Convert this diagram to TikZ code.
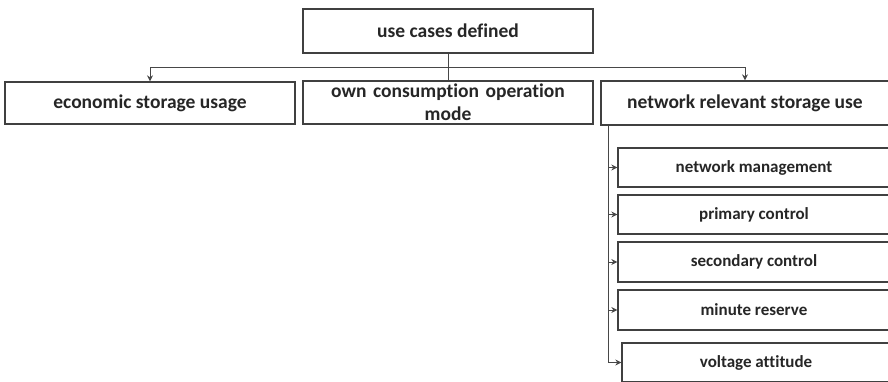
\documentclass[tikz,border=0pt]{standalone}
\usepackage{fontspec}
\setmainfont{Carlito}[Ligatures=NoCommon]
\usetikzlibrary{arrows.meta}
\begin{document}
\begin{tikzpicture}[x=1pt,y=-1pt,
  box/.style={draw=black!75,line width=1.3pt,fill=white,inner sep=0pt,align=center,text=black!85,font=\bfseries\fontsize{19.5}{21}\selectfont},
  subbox/.style={box,font=\bfseries\fontsize{17}{17}\selectfont},
  conn/.style={draw=black!72,line width=1pt},
  arr/.style={conn,-{Stealth[length=6pt,width=6pt]}}]
\useasboundingbox (0,0) rectangle (888,382);
\clip (0,0) rectangle (888,382);
\node[box,minimum width=290pt,minimum height=44pt] (top) at (448,31) {use cases defined};
\node[box,minimum width=290pt,minimum height=42pt] (econ) at (150,103) {economic storage usage};
\node[box,minimum width=290pt,minimum height=43pt,text width=280pt] (own) at (448,102.5) {own consumption operation\\[2pt]mode};
\node[box,minimum width=288pt,minimum height=44pt] (net) at (745,103) {network relevant storage use};
\node[subbox,minimum width=272pt,minimum height=39pt] (nm) at (754,167.5) {network management};
\node[subbox,minimum width=272pt,minimum height=39pt] (pc) at (754,214.5) {primary control};
\node[subbox,minimum width=272pt,minimum height=40pt] (sc) at (754,262) {secondary control};
\node[subbox,minimum width=272pt,minimum height=40pt] (mr) at (754,310) {minute reserve};
\node[subbox,minimum width=268pt,minimum height=39pt] (va) at (756,362.5) {voltage attitude};
\coordinate (hub) at (448,68);
\coordinate (spine) at (608,0);
\draw[conn] (top.south) -- (own.north);
\draw[arr] (hub) -| (econ.north);
\draw[arr] (hub) -| (net.north);
\draw[conn] (net.south -| spine) |- (va.west);
\draw[arr] (net.south -| spine) |- (nm.west);
\draw[arr] (net.south -| spine) |- (pc.west);
\draw[arr] (net.south -| spine) |- (sc.west);
\draw[arr] (net.south -| spine) |- (mr.west);
\draw[arr] (net.south -| spine) |- (va.west);
\end{tikzpicture}
\end{document}
